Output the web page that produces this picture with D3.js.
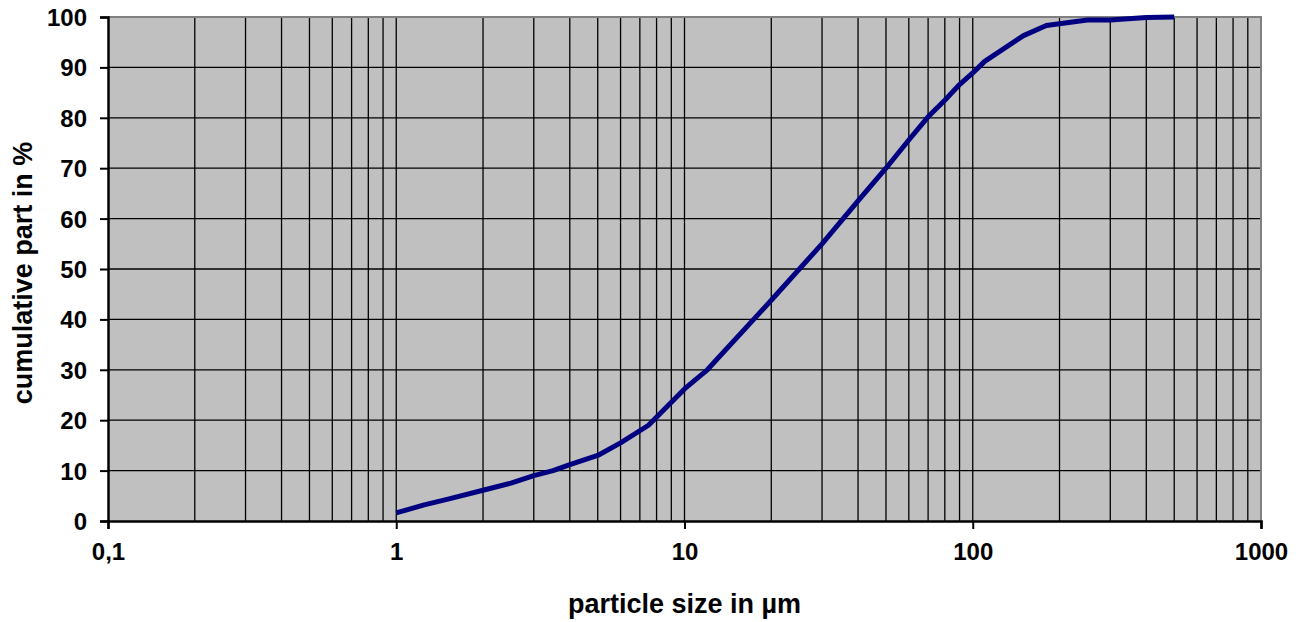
<!DOCTYPE html>
<html>
<head>
<meta charset="utf-8">
<script src="https://cdn.jsdelivr.net/npm/d3@7"></script>
<style>
  body { margin: 0; background: #fff; }
  text { font-family: 'Liberation Sans', Arial, sans-serif; font-weight: bold; fill: #000; }
</style>
</head>
<body>
<div id="wrapper"></div>
<script>
// particle size (µm) and cumulative part (%)
const sizes = [1, 1.25, 1.5, 2, 2.5, 3, 3.5, 4, 5, 6, 7.5, 10, 12, 20, 30, 40, 50, 60, 70, 80, 90, 100, 110, 150, 180, 250, 300, 400, 500]
const cumulative = [1.6, 3.2, 4.3, 6.1, 7.5, 9.0, 10.0, 11.2, 13.0, 15.5, 19.0, 26.2, 30.0, 43.8, 55.0, 63.5, 70.0, 75.6, 80.2, 83.5, 86.6, 88.9, 91.2, 96.3, 98.3, 99.4, 99.4, 99.9, 100]
const xTicks = [0.1, 1, 10, 100, 1000]
const xTickLabels = ['0,1', '1', '10', '100', '1000']
const yTicks = [0, 10, 20, 30, 40, 50, 60, 70, 80, 90, 100]

const drawChart = () => {
    const dimensions = {
        width: 1301,
        height: 622,
        margin: { top: 17, right: 40, bottom: 101, left: 108 }
    }
    dimensions.boundedWidth = dimensions.width - dimensions.margin.left - dimensions.margin.right
    dimensions.boundedHeight = dimensions.height - dimensions.margin.top - dimensions.margin.bottom

    const data = sizes.map((s, i) => ({ size: s, value: cumulative[i] }))

    const wrapper = d3.select('#wrapper')
        .append('svg')
        .attr('width', dimensions.width)
        .attr('height', dimensions.height)

    const bounds = wrapper.append('g')
        .attr('transform', `translate(${dimensions.margin.left}, ${dimensions.margin.top})`)

    const scaleX = d3.scaleLog()
        .domain([0.1, 1000])
        .range([0, dimensions.boundedWidth])

    const scaleY = d3.scaleLinear()
        .domain([0, 100])
        .range([dimensions.boundedHeight, 0])

    // plot background
    bounds.append('rect')
        .attr('width', dimensions.boundedWidth)
        .attr('height', dimensions.boundedHeight)
        .attr('fill', '#c0c0c0')

    // vertical grid: 1..9 per decade
    const gridX = []
    for (let e = -1; e < 3; e++) {
        for (let k = 1; k < 10; k++) gridX.push(k * Math.pow(10, e))
    }
    bounds.append('g').selectAll('line')
        .data(gridX.filter(v => v > 0.1))
        .join('line')
        .attr('x1', d => scaleX(d))
        .attr('x2', d => scaleX(d))
        .attr('y1', 0)
        .attr('y2', dimensions.boundedHeight)
        .attr('stroke', '#000')
        .attr('stroke-width', 1.3)

    // horizontal grid
    bounds.append('g').selectAll('line')
        .data(yTicks.filter(v => v > 0 && v < 100))
        .join('line')
        .attr('x1', 0)
        .attr('x2', dimensions.boundedWidth)
        .attr('y1', d => scaleY(d))
        .attr('y2', d => scaleY(d))
        .attr('stroke', '#000')
        .attr('stroke-width', 1.3)

    // top and right border
    bounds.append('path')
        .attr('d', `M0,0H${dimensions.boundedWidth}V${dimensions.boundedHeight}`)
        .attr('fill', 'none')
        .attr('stroke', '#808080')
        .attr('stroke-width', 2)

    // curve
    const lineGenerator = d3.line()
        .x(d => scaleX(d.size))
        .y(d => scaleY(d.value))

    bounds.append('path')
        .datum(data)
        .attr('d', lineGenerator)
        .attr('fill', 'none')
        .attr('stroke', '#000080')
        .attr('stroke-width', 5)
        .attr('stroke-linejoin', 'round')
        .attr('stroke-linecap', 'butt')

    // axes
    const xAxisGenerator = d3.axisBottom(scaleX)
        .tickValues(xTicks)
        .tickFormat((d, i) => xTickLabels[i])
        .tickSize(8)
        .tickPadding(14)
    const xAxis = bounds.append('g')
        .attr('transform', `translate(0, ${dimensions.boundedHeight})`)
        .call(xAxisGenerator)

    const yAxisGenerator = d3.axisLeft(scaleY)
        .tickValues(yTicks)
        .tickSize(8)
        .tickPadding(13)
    const yAxis = bounds.append('g').call(yAxisGenerator)

    ;[xAxis, yAxis].forEach(ax => {
        ax.select('.domain').attr('stroke', '#000').attr('stroke-width', 2.5)
        ax.selectAll('.tick line').attr('stroke', '#000').attr('stroke-width', 2)
        ax.selectAll('.tick text')
            .style('font-size', '24px')
            .style('font-family', "'Liberation Sans', Arial, sans-serif")
            .style('font-weight', 'bold')
            .attr('fill', '#000')
    })
    yAxis.selectAll('.tick text').attr('dy', '0.35em')

    // axis titles
    wrapper.append('text')
        .text('particle size in µm')
        .attr('x', dimensions.margin.left + dimensions.boundedWidth / 2)
        .attr('y', 613)
        .style('font-size', '27px')
        .style('text-anchor', 'middle')

    wrapper.append('text')
        .text('cumulative part in %')
        .attr('transform', `translate(32, ${dimensions.margin.top + dimensions.boundedHeight / 2 + 4}) rotate(-90)`)
        .style('font-size', '27px')
        .style('text-anchor', 'middle')
}
drawChart()
</script>
</body>
</html>
